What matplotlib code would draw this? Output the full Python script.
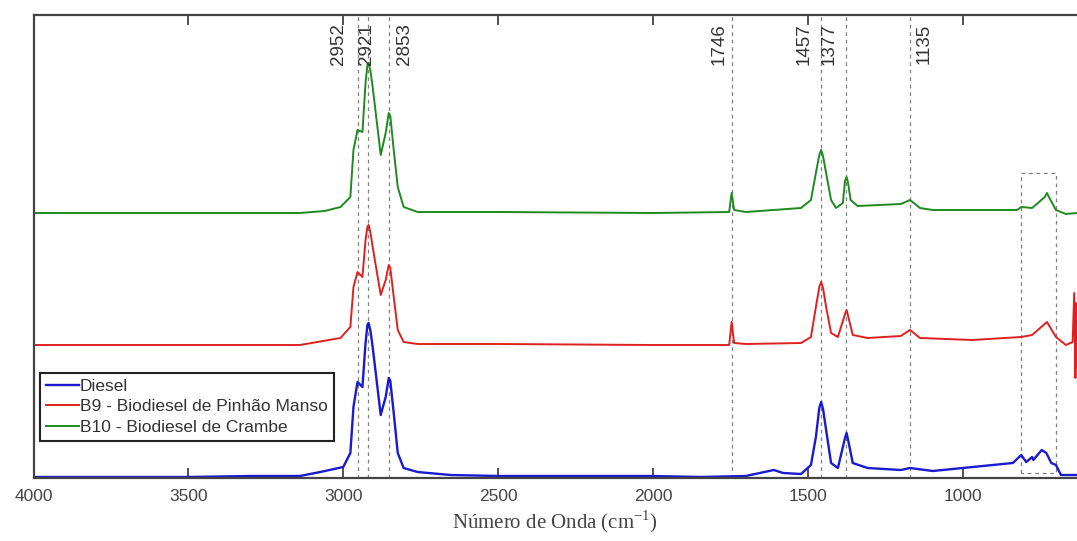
import matplotlib.pyplot as plt

# wavenumbers (cm-1) and heights (arbitrary units, stacked)
wn_diesel = [4000, 3500, 3300, 3140, 3074, 3000, 2977, 2967, 2954, 2938, 2928, 2922,
             2918, 2912, 2905, 2879, 2863, 2853, 2848, 2837, 2824, 2805, 2760, 2654,
             2500, 2000, 1845, 1700, 1610, 1580, 1522, 1490, 1474, 1463, 1457, 1451,
             1441, 1425, 1403, 1380, 1375, 1370, 1355, 1307, 1200, 1170, 1097, 1000,
             903, 838, 811, 795, 776, 772, 745, 730, 714, 699, 683, 631]
y_diesel = [1, 1, 2, 2, 6, 11, 25, 71, 96, 91, 135, 153,
            155, 147, 131, 63, 81, 100, 97, 65, 25, 10, 6, 3,
            2, 2, 1, 2, 8, 5, 4, 13, 41, 70, 76, 69,
            48, 15, 10, 40, 45, 38, 15, 10, 8, 10, 7, 10,
            13, 15, 23, 16, 21, 18, 28, 25, 15, 13, 3, 3]

wn_b9 = [4000, 3500, 3140, 3009, 2977, 2967, 2954, 2938, 2928, 2922, 2918, 2912,
         2905, 2879, 2863, 2853, 2848, 2837, 2824, 2805, 2760, 2500, 2000, 1754,
         1746, 1738, 1700, 1522, 1490, 1474, 1463, 1457, 1451, 1441, 1425, 1403,
         1380, 1375, 1370, 1355, 1307, 1200, 1170, 1138, 970, 811, 776, 728, 699,
         667, 645, 640, 636, 634, 632, 631]
y_b9 = [133, 133, 133, 140, 151, 191, 206, 201, 238, 251, 253, 245,
        231, 183, 198, 213, 210, 181, 148, 136, 134, 134, 133, 133,
        156, 135, 134, 135, 141, 171, 191, 196, 190, 171, 145, 141,
        164, 168, 162, 143, 140, 142, 148, 140, 138, 141, 143, 156, 141,
        133, 136, 185, 100, 175, 110, 133]

wn_b10 = [4000, 3500, 3140, 3060, 3009, 2977, 2967, 2954, 2938, 2928, 2922, 2918,
          2912, 2905, 2879, 2863, 2853, 2848, 2837, 2824, 2805, 2760, 2500, 2000,
          1754, 1746, 1738, 1700, 1522, 1490, 1474, 1463, 1457, 1451, 1441, 1425,
          1409, 1387, 1380, 1375, 1370, 1362, 1339, 1200, 1170, 1138, 1097, 825,
          811, 776, 735, 728, 720, 699, 667, 631]
y_b10 = [265, 265, 265, 267, 271, 281, 328, 348, 346, 395, 413, 415,
         407, 391, 323, 345, 365, 362, 328, 291, 271, 266, 266, 265,
         266, 285, 268, 266, 270, 278, 305, 323, 328, 322, 305, 278,
         270, 275, 297, 301, 295, 278, 272, 274, 278, 270, 268, 268,
         271, 270, 281, 285, 280, 268, 264, 265]

band_pos = [2952, 2921, 2853, 1746, 1457, 1377, 1170]
band_labels = ['2952', '2921', '2853', '1746', '1457', '1377', '1135']
label_dx = [-14, -1, 11, -9, -12, -12, 10]   # points, label offset from its line

box_wn = [811, 811, 699, 699, 811]
box_y = [5, 305, 305, 5, 5]

series_labels = ['Diesel', 'B9 - Biodiesel de Pinhão Manso', 'B10 - Biodiesel de Crambe']

fig = plt.figure(figsize=(10.77, 5.41), dpi=100)
ax = fig.add_axes([33.5 / 1077, 63 / 541, 1 - 33.5 / 1077, 463 / 541])

ax.plot(wn_diesel, y_diesel, color='#1a1ad0', lw=1.7, label=series_labels[0])
ax.plot(wn_b9, y_b9, color='#e02020', lw=1.4, label=series_labels[1])
ax.plot(wn_b10, y_b10, color='#1f8a1f', lw=1.4, label=series_labels[2])

for p, lab, dx in zip(band_pos, band_labels, label_dx):
    ax.axvline(p, color='#808080', lw=0.9, ls=(0, (3, 3)), zorder=0)
    ax.annotate(lab, xy=(p, 1), xycoords=('data', 'axes fraction'),
                xytext=(dx, -6), textcoords='offset points', rotation=90,
                ha='center', va='top', fontsize=13.5, color='#333333',
                family='Liberation Sans')

ax.plot(box_wn, box_y, color='#808080', lw=0.9, ls=(0, (3, 3)), zorder=0)

ax.set_xlim(4000, 631)
ax.set_ylim(0, 463)
ax.set_xticks([4000, 3500, 3000, 2500, 2000, 1500, 1000])
ax.set_yticks([])
ax.tick_params(axis='x', direction='in', length=7, width=1.2, top=True,
               labelsize=12.5, labelcolor='#444444', colors='#333333', pad=8)
for lab in ax.get_xticklabels():
    lab.set_family('Liberation Sans')
for s in ['left', 'bottom', 'top']:
    ax.spines[s].set_color('#444444')
    ax.spines[s].set_linewidth(1.6)
ax.spines['right'].set_visible(False)

ax.set_xlabel('Número de Onda (cm$^{\\mathregular{-1}}$)', family='Liberation Serif',
              fontsize=15, color='#444444', labelpad=3)

leg = ax.legend(loc='upper left', bbox_to_anchor=(0.006, 0.227), borderaxespad=0,
                fancybox=False, framealpha=1, edgecolor='#222222', handlelength=1.9,
                handletextpad=0.05, borderpad=0.35, labelspacing=0.3,
                prop={'family': 'Liberation Sans', 'size': 12.5})
leg.get_frame().set_linewidth(1.5)
for t in leg.get_texts():
    t.set_color('#333333')

fig.savefig('out.png', dpi=100)
